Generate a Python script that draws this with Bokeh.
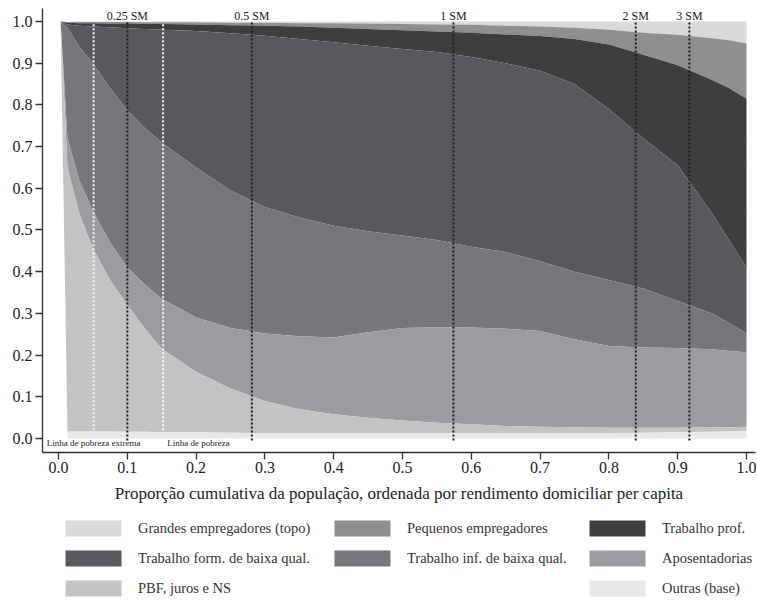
import numpy as np
from bokeh.plotting import figure
from bokeh.layouts import column
from bokeh.models import Range1d, FixedTicker, PrintfTickFormatter, Legend, LegendItem
from bokeh.core.properties import value
from bokeh.embed import file_html
from bokeh.resources import INLINE

FONT = "Liberation Serif"

# cumulative population share (x) and income-source shares (stacked from the top)
pop_share = [0.003, 0.013, 0.03, 0.05, 0.075, 0.1, 0.125, 0.15, 0.2, 0.25, 0.3, 0.35, 0.4,
             0.45, 0.5, 0.55, 0.6, 0.65, 0.7, 0.75, 0.8, 0.85, 0.9, 0.95, 0.975, 1.0]

grandes = [0, .001, .001, .001, .001, .001, .002, .002, .002, .003, .003, .004, .004, .005, .006,
           .007, .008, .010, .012, .015, .020, .027, .032, .040, .045, .053]
pequenos = [0, .002, .003, .003, .004, .004, .004, .004, .005, .006, .007, .008, .011, .013, .015,
            .017, .019, .021, .023, .027, .035, .053, .073, .100, .115, .132]
prof = [0, .004, .006, .008, .009, .011, .012, .014, .016, .019, .024, .030, .035, .040, .045,
        .049, .058, .069, .083, .108, .155, .200, .240, .320, .365, .405]
form = [0, .008, .050, .088, .146, .197, .237, .270, .327, .377, .411, .428, .440, .445, .447,
        .451, .455, .453, .457, .450, .410, .360, .325, .240, .198, .158]
inf = [0, .265, .320, .355, .370, .377, .375, .375, .360, .330, .303, .285, .268, .242, .222,
       .209, .194, .184, .167, .162, .158, .142, .113, .086, .067, .045]
apos = [0, .070, .080, .090, .090, .090, .105, .120, .130, .145, .162, .175, .184, .205, .222,
        .229, .232, .233, .230, .211, .196, .192, .191, .187, .183, .179]
pbf = [0, .633, .523, .438, .363, .304, .249, .200, .145, .106, .077, .057, .046, .038, .031,
       .026, .022, .018, .016, .014, .013, .012, .011, .011, .010, .010]
outras = [0, .017, .017, .017, .017, .016, .016, .015, .015, .014, .013, .013, .012, .012, .012,
          .012, .012, .012, .012, .013, .013, .014, .015, .016, .017, .018]

layer_names = ["Grandes empregadores (topo)", "Pequenos empregadores", "Trabalho prof.",
               "Trabalho form. de baixa qual.", "Trabalho inf. de baixa qual.", "Aposentadorias",
               "PBF, juros e NS", "Outras (base)"]
layer_values = [grandes, pequenos, prof, form, inf, apos, pbf, outras]
layer_colors = ["#dadada", "#8f8f91", "#3e3e3f", "#58595d", "#76777b", "#9b9ca0", "#c3c3c4", "#e8e8e8"]

# reference lines
sm_x = [0.1, 0.281, 0.574, 0.839, 0.917]
sm_labels = ["0.25 SM", "0.5 SM", "1 SM", "2 SM", "3 SM"]
pov_x = [0.051, 0.152]
pov_labels = ["Linha de pobreza extrema", "Linha de pobreza"]

x_ticks = [0.0, 0.1, 0.2, 0.3, 0.4, 0.5, 0.6, 0.7, 0.8, 0.9, 1.0]
y_ticks = [0.0, 0.1, 0.2, 0.3, 0.4, 0.5, 0.6, 0.7, 0.8, 0.9, 1.0]

shares = np.array(layer_values, dtype=float)
cum = np.cumsum(shares, axis=0)
upper = 1.0 - np.vstack([np.zeros(len(pop_share)), cum[:-1]])
lower = 1.0 - cum

W = 757
p = figure(width=W, height=510, x_range=Range1d(-0.0233, 1.0131), y_range=Range1d(-0.0336, 1.0312),
           output_backend="svg", toolbar_location=None,
           min_border_left=42, min_border_right=2, min_border_top=8, min_border_bottom=58,
           background_fill_color="white", border_fill_color="white")
p.outline_line_color = None
p.grid.visible = False

for i, name in enumerate(layer_names):
    p.varea(x=pop_share, y1=lower[i], y2=upper[i], fill_color=layer_colors[i], fill_alpha=1.0)

# dotted reference lines
p.segment(x0=pov_x, x1=pov_x, y0=[0.02] * len(pov_x), y1=[0.998] * len(pov_x),
          line_color="#f4f4f4", line_width=2, line_dash="2 2")
p.segment(x0=sm_x, x1=sm_x, y0=[-0.005] * len(sm_x), y1=[0.998] * len(sm_x),
          line_color="#1e1e1e", line_width=2, line_dash="2 2")

p.text(x=sm_x, y=[1.013] * len(sm_x), text=sm_labels, text_align="center", text_baseline="middle",
       text_font=value(FONT), text_font_size="12px", text_color="#222222")
p.text(x=[pov_x[0]], y=[-0.011], text=[pov_labels[0]], text_align="center", text_baseline="middle",
       text_font=value(FONT), text_font_size="9px", text_color="#222222")
p.text(x=[pov_x[1] + 0.006], y=[-0.011], text=[pov_labels[1]], text_align="left", text_baseline="middle",
       text_font=value(FONT), text_font_size="9px", text_color="#222222")

for ax in (p.xaxis[0], p.yaxis[0]):
    ax.axis_line_color = "#333333"
    ax.axis_line_width = 1.3
    ax.major_tick_line_color = "#333333"
    ax.major_tick_line_width = 1.3
    ax.major_tick_out = 7
    ax.major_tick_in = 0
    ax.minor_tick_line_color = None
    ax.major_label_text_font = FONT
    ax.major_label_text_font_size = "16px"
    ax.major_label_text_color = "#222222"
    ax.formatter = PrintfTickFormatter(format="%.1f")

p.xaxis[0].ticker = FixedTicker(ticks=x_ticks)
p.yaxis[0].ticker = FixedTicker(ticks=y_ticks)
p.xaxis[0].major_label_standoff = 2
p.yaxis[0].major_label_standoff = 3
p.yaxis[0].major_label_orientation = "horizontal"
p.xaxis[0].axis_label = "Proporção cumulativa da população, ordenada por rendimento domiciliar per capita"
p.xaxis[0].axis_label_text_font = FONT
p.xaxis[0].axis_label_text_font_size = "17px"
p.xaxis[0].axis_label_text_font_style = "normal"
p.xaxis[0].axis_label_text_color = "#222222"
p.xaxis[0].axis_label_standoff = 8

# legend panel below the chart (swatch proxies lie outside its visible range)
lg = figure(width=W, height=95, x_range=Range1d(0, 1), y_range=Range1d(0, 1),
            output_backend="svg", toolbar_location=None, x_axis_type=None, y_axis_type=None,
            min_border_left=42, min_border_right=2, min_border_top=0, min_border_bottom=0,
            background_fill_color="white", border_fill_color="white")
lg.outline_line_color = None
swatches = {}
for name, color in zip(layer_names, layer_colors):
    swatches[name] = lg.varea(x=[0, 1], y1=[-3, -3], y2=[-2, -2], fill_color=color, fill_alpha=1.0)

legend_cols = [
    ["Grandes empregadores (topo)", "Trabalho form. de baixa qual.", "PBF, juros e NS"],
    ["Pequenos empregadores", "Trabalho inf. de baixa qual."],
    ["Trabalho prof.", "Aposentadorias", "Outras (base)"],
]
legend_x = [16, 285, 540]
for names, vx in zip(legend_cols, legend_x):
    h = 20 * len(names) + 10 * (len(names) - 1)
    leg = Legend(items=[LegendItem(label=n, renderers=[swatches[n]]) for n in names],
                 location=(vx, 95 - 8 - h), orientation="vertical",
                 glyph_width=70, glyph_height=20, label_standoff=10, spacing=10,
                 padding=0, margin=0, border_line_color=None, background_fill_alpha=0,
                 label_text_font=FONT, label_text_font_size="14.5px", label_text_color="#333333",
                 label_height=20)
    lg.add_layout(leg, "center")

layout = column(p, lg, spacing=0)
open("out.html", "w").write(file_html(layout, INLINE))
